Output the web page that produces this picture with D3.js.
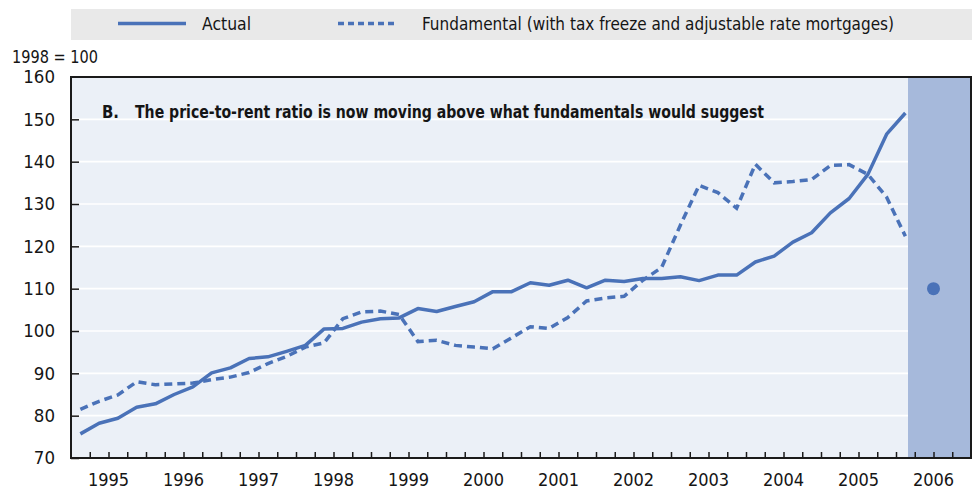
<!DOCTYPE html>
<html>
<head>
<meta charset="utf-8">
<script src="https://cdn.jsdelivr.net/npm/d3@7"></script>
<style>
  body { margin: 0; background: #fff; }
  svg text { font-family: "Liberation Sans Narrow", "DejaVu Sans Condensed", "Arial Narrow", sans-serif; fill: #151515; }
</style>
</head>
<body>
<svg id="chart" width="972" height="490"></svg>
<script>
// Quarterly series, 1995Q1 - 2006Q1 (1998 = 100)
const actual = [
  75.7, 78.2, 79.4, 82.0, 82.8, 85.0, 86.8, 90.1, 91.3, 93.5, 93.9, 95.2,
  96.6, 100.5, 100.6, 102.1, 102.9, 103.1, 105.3, 104.6, 105.8, 106.9, 109.3, 109.3,
  111.4, 110.8, 112.0, 110.2, 112.0, 111.7, 112.4, 112.4, 112.8, 111.9, 113.2, 113.2,
  116.3, 117.7, 121.0, 123.2, 127.9, 131.3, 137.0, 146.5, 151.5
];
const fundamental = [
  81.5, 83.4, 84.9, 88.0, 87.3, 87.5, 87.7, 88.5, 89.1, 90.2, 92.3, 94.0,
  96.2, 97.2, 102.9, 104.5, 104.7, 103.9, 97.5, 97.8, 96.6, 96.2, 95.8, 98.4,
  101.0, 100.6, 103.2, 107.1, 107.8, 108.2, 112.0, 115.0, 125.0, 134.4, 132.7, 129.0,
  139.4, 135.0, 135.3, 135.8, 139.1, 139.3, 137.0, 131.6, 122.4
];
const startYear = 1995;
const years = [1995, 1996, 1997, 1998, 1999, 2000, 2001, 2002, 2003, 2004, 2005, 2006];
const yTicks = [70, 80, 90, 100, 110, 120, 130, 140, 150, 160];
const shadeFrom = 2006.16;   // projection band
const marker = { t: 2006.5, v: 110 };
const seriesNames = ['Actual', 'Fundamental (with tax freeze and adjustable rate mortgages)'];
const title = 'The price-to-rent ratio is now moving above what fundamentals would suggest';

const blue = '#4a72b8';
const svg = d3.select('#chart');
const margin = { top: 77, right: 1, bottom: 32, left: 71 };
const W = 972 - margin.left - margin.right;
const H = 490 - margin.top - margin.bottom;

const x = d3.scaleLinear().domain([1995, 2007]).range([0, W]);
const y = d3.scaleLinear().domain([70, 160]).range([H, 0]);
const tOf = i => startYear + (i + 0.5) / 4;

// legend band
const leg = svg.append('g');
leg.append('rect').attr('x', 71).attr('y', 9).attr('width', 901).attr('height', 31).attr('fill', '#e9e9e9');
leg.append('line').attr('x1', 118).attr('x2', 186).attr('y1', 23.5).attr('y2', 23.5)
  .attr('stroke', blue).attr('stroke-width', 3.5);
leg.append('text').attr('x', 202).attr('y', 30).attr('font-size', '18px')
  .attr('textLength', 49).attr('lengthAdjust', 'spacingAndGlyphs').text(seriesNames[0]);
leg.append('line').attr('x1', 338).attr('x2', 398).attr('y1', 23.5).attr('y2', 23.5)
  .attr('stroke', blue).attr('stroke-width', 3.5).attr('stroke-dasharray', '6,4');
leg.append('text').attr('x', 422).attr('y', 30).attr('font-size', '18px')
  .attr('textLength', 472).attr('lengthAdjust', 'spacingAndGlyphs').text(seriesNames[1]);

const g = svg.append('g').attr('transform', `translate(${margin.left},${margin.top})`);

// background + grid
g.append('rect').attr('width', W).attr('height', H).attr('fill', '#ebf0f7');
g.selectAll('.grid').data(yTicks.slice(1, -1)).join('line')
  .attr('x1', 0).attr('x2', W).attr('y1', d => y(d)).attr('y2', d => y(d))
  .attr('stroke', '#fff').attr('stroke-width', 1.6);

// shaded band
g.append('rect').attr('x', x(shadeFrom)).attr('y', 0)
  .attr('width', x(2007) - x(shadeFrom)).attr('height', H).attr('fill', '#a6b9db');

// title
g.append('text').attr('x', 31).attr('y', 41).attr('font-size', '17.5px').attr('font-weight', 'bold')
  .attr('textLength', 17).attr('lengthAdjust', 'spacingAndGlyphs').text('B.');
g.append('text').attr('x', 64).attr('y', 41).attr('font-size', '17.5px').attr('font-weight', 'bold')
  .attr('textLength', 629).attr('lengthAdjust', 'spacingAndGlyphs').text(title);

// lines
const line = d3.line().x((d, i) => x(tOf(i))).y(d => y(d));
g.append('path').datum(fundamental).attr('d', line).attr('fill', 'none')
  .attr('stroke', blue).attr('stroke-width', 3.5).attr('stroke-dasharray', '8,5');
g.append('path').datum(actual).attr('d', line).attr('fill', 'none')
  .attr('stroke', blue).attr('stroke-width', 3.5).attr('stroke-linejoin', 'round');

g.append('circle').attr('cx', x(marker.t)).attr('cy', y(marker.v)).attr('r', 6.5).attr('fill', blue);

// frame
g.append('rect').attr('width', W).attr('height', H).attr('fill', 'none')
  .attr('stroke', '#1a1a1a').attr('stroke-width', 2);

// y axis
const ya = g.append('g').call(d3.axisLeft(y).tickValues(yTicks).tickSize(-8).tickPadding(16));
ya.select('.domain').remove();
ya.selectAll('.tick line').attr('stroke', '#1a1a1a').attr('stroke-width', 1.5);
ya.selectAll('text').attr('font-size', '18.5px').attr('font-family', null);
ya.select('.tick:last-of-type line').remove();

svg.append('text').attr('x', 12).attr('y', 63).attr('font-size', '17px')
  .attr('textLength', 86).attr('lengthAdjust', 'spacingAndGlyphs').text('1998 = 100');

// x axis: quarter ticks, year labels centred
const qTicks = d3.range(1, 48).map(i => startYear + i / 4);
const xa = g.append('g').attr('transform', `translate(0,${H})`)
  .call(d3.axisBottom(x).tickValues(qTicks).tickSize(-6).tickFormat(''));
xa.select('.domain').remove();
xa.selectAll('.tick line').attr('stroke', '#1a1a1a').attr('stroke-width', 1.5);

g.append('g').selectAll('text').data(years).join('text')
  .attr('x', d => x(d + 0.5)).attr('y', H + 28)
  .attr('text-anchor', 'middle').attr('font-size', '18px').text(d => d);
</script>
</body>
</html>
